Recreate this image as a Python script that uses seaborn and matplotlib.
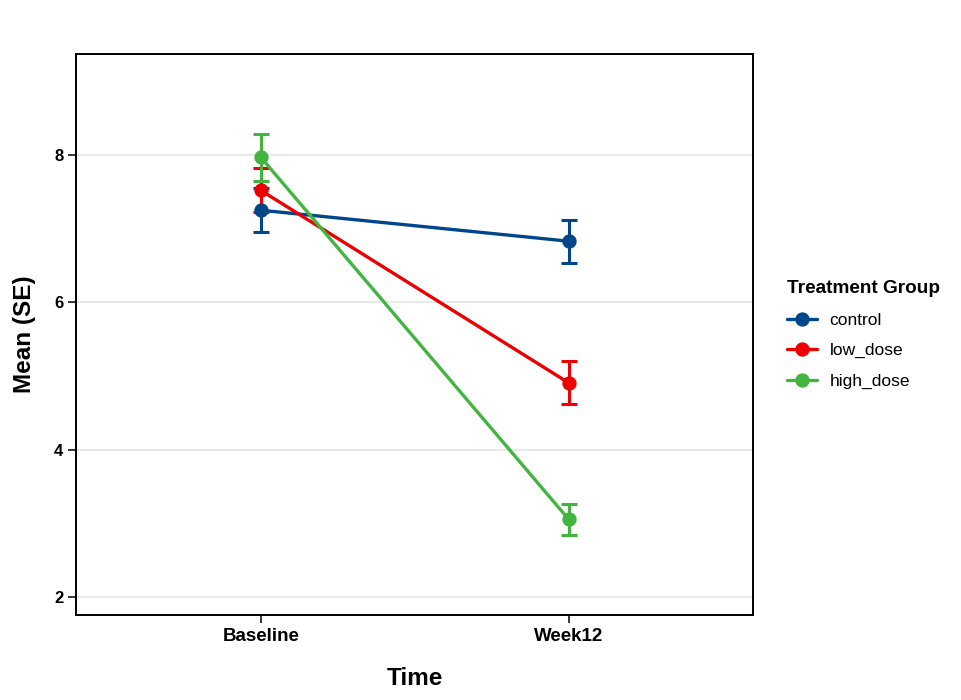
import numpy as np
import pandas as pd
import matplotlib
matplotlib.use("Agg")
import matplotlib.pyplot as plt
import seaborn as sns

# summary values (mean and SE per group/time)
timepoints = ["Baseline", "Week12"]
groups = ["control", "low_dose", "high_dose"]
control_mean = [7.25, 6.83]
control_se = [0.30, 0.29]
low_mean = [7.52, 4.91]
low_se = [0.30, 0.29]
high_mean = [7.97, 3.06]
high_se = [0.32, 0.21]
palette = {"control": "#00468B", "low_dose": "#ED0000", "high_dose": "#42B540"}

df = pd.DataFrame({
    "Time": timepoints * 3,
    "Group": [g for g in groups for _ in timepoints],
    "Mean": control_mean + low_mean + high_mean,
    "SE": control_se + low_se + high_se,
})

sns.set_style("white")
plt.rcParams["font.family"] = ["Liberation Sans", "DejaVu Sans"]
plt.rcParams["text.color"] = "black"
plt.rcParams["axes.labelcolor"] = "black"
plt.rcParams["xtick.color"] = "black"
plt.rcParams["ytick.color"] = "black"

fig = plt.figure(figsize=(9.62, 7.0), dpi=100)
ax = fig.add_axes([0.079, 0.1214, 0.704, 0.8016])

# error bars first so points sit on top
xpos = {t: i for i, t in enumerate(timepoints)}
for g in groups:
    sub = df[df.Group == g]
    ax.errorbar([xpos[t] for t in sub.Time], sub.Mean, yerr=sub.SE, fmt="none",
                ecolor=palette[g], elinewidth=2.2, capsize=5.8, capthick=2.2, zorder=3)

sns.pointplot(data=df, x="Time", y="Mean", hue="Group", hue_order=groups,
              order=timepoints, palette=palette, errorbar=None,
              markers="o", markersize=8.5, linewidth=2.4, ax=ax, zorder=4)

ax.set_xlim(-0.6, 1.6)
ax.set_ylim(1.76, 9.37)
ax.set_yticks([2, 4, 6, 8])
ax.yaxis.grid(True, color="#E3E3E3", linewidth=1.1)
ax.xaxis.grid(False)
ax.set_axisbelow(True)

for s in ax.spines.values():
    s.set_visible(True)
    s.set_color("black")
    s.set_linewidth(1.4)

ax.tick_params(axis="both", which="both", length=6, width=1.1, color="black",
               labelcolor="black", direction="out", bottom=True, left=True, pad=3)
for lab in ax.get_xticklabels():
    lab.set_fontsize(13.5)
    lab.set_fontweight("bold")
for lab in ax.get_yticklabels():
    lab.set_fontsize(12)
    lab.set_fontweight("bold")

ax.set_xlabel("Time", fontsize=17.5, fontweight="bold", labelpad=16, color="black")
ax.set_ylabel("Mean (SE)", fontsize=17.5, fontweight="bold", labelpad=13, color="black")

handles, labels = ax.get_legend_handles_labels()
leg = ax.legend(handles, labels, title="Treatment Group", loc="center left",
                bbox_to_anchor=(1.027, 0.5), frameon=False, fontsize=12.5,
                title_fontproperties={"weight": "bold", "size": 13.7},
                handlelength=1.7, handletextpad=0.75, labelspacing=0.88,
                alignment="left")
for t in leg.get_texts():
    t.set_color("black")
leg.get_title().set_color("black")

fig.savefig("out.png", dpi=100)
